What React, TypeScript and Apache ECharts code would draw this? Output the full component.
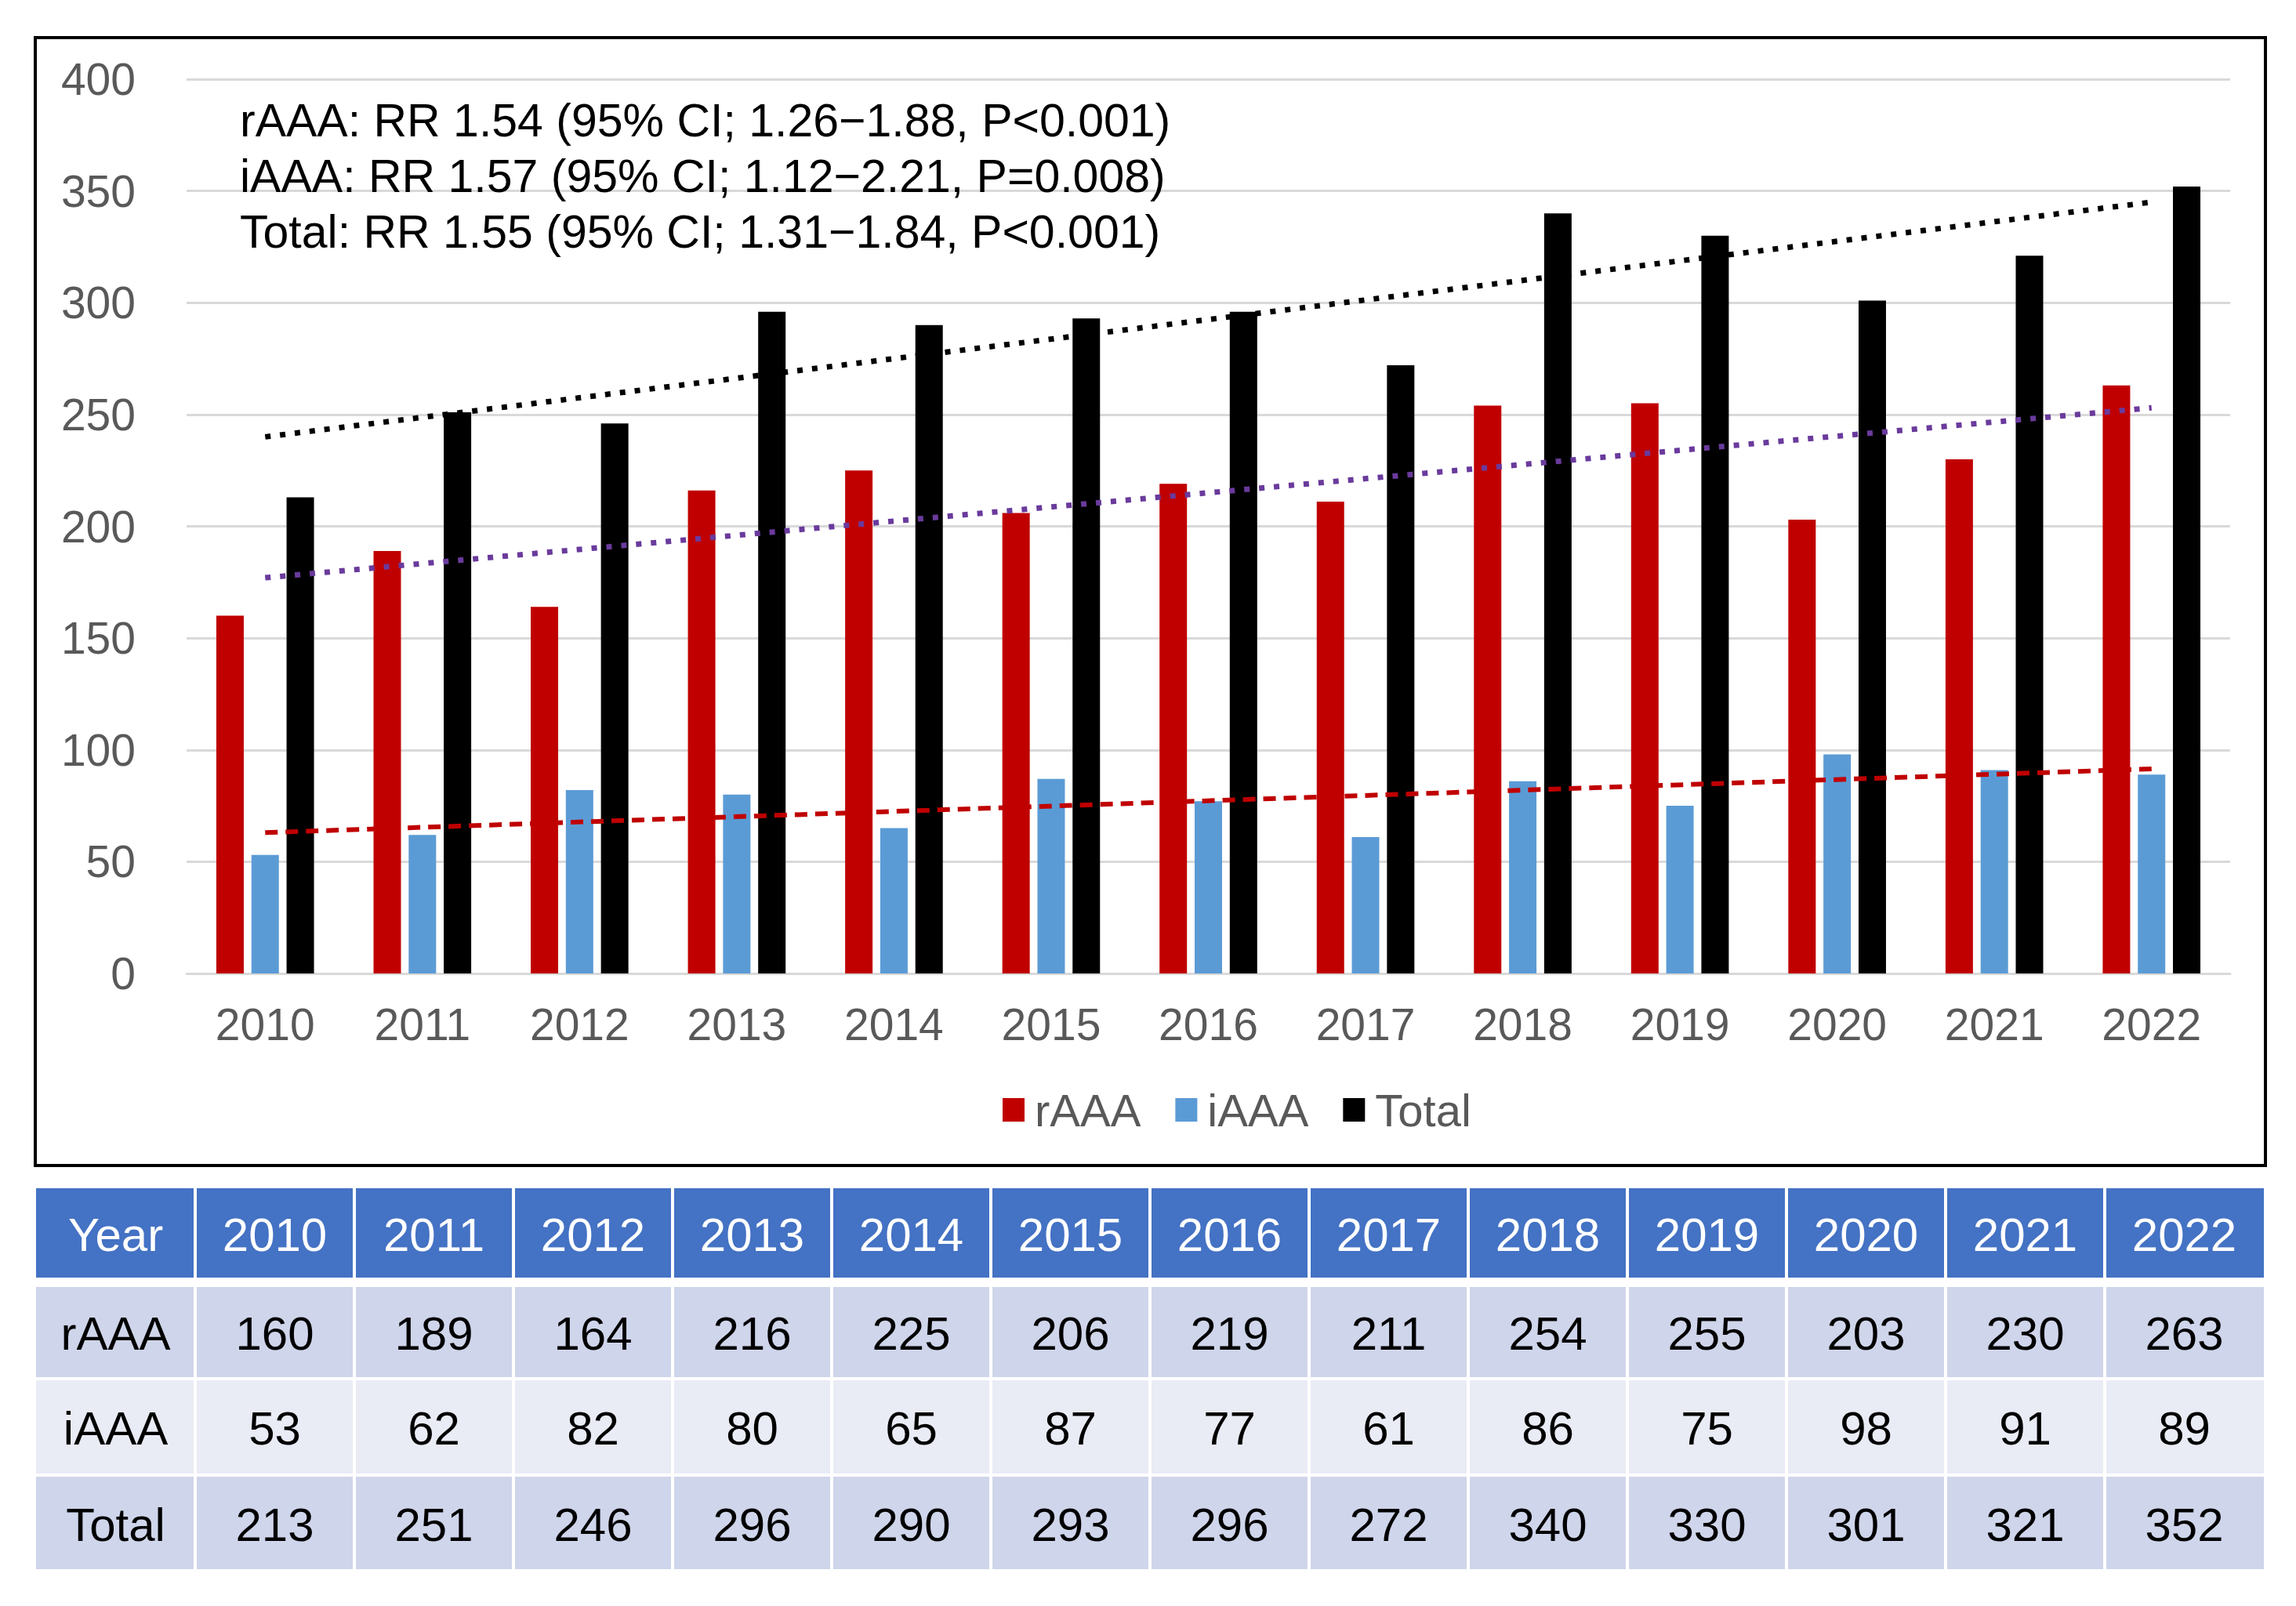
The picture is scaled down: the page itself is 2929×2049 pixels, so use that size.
import React, { useEffect, useRef } from "react";
import * as echarts from "echarts";

const years = ["2010", "2011", "2012", "2013", "2014", "2015", "2016", "2017", "2018", "2019", "2020", "2021", "2022"];
const rAAA = [160, 189, 164, 216, 225, 206, 219, 211, 254, 255, 203, 230, 263];
const iAAA = [53, 62, 82, 80, 65, 87, 77, 61, 86, 75, 98, 91, 89];
const total = [213, 251, 246, 296, 290, 293, 296, 272, 340, 330, 301, 321, 352];

// trend line end values (first year, last year)
const trendTotal = [240, 345];
const trendR = [177, 253];
const trendI = [63, 91.5];

const seriesNames = ["rAAA", "iAAA", "Total"];
const tableHeader = "Year";
const annotations = [
  "rAAA: RR 1.54 (95% CI; 1.26\u22121.88, P<0.001)",
  "iAAA: RR 1.57 (95% CI; 1.12\u22122.21, P=0.008)",
  "Total: RR 1.55 (95% CI; 1.31\u22121.84, P<0.001)",
];

const FONT = '"Liberation Sans", Arial, Helvetica, sans-serif';
const C_RED = "#C00000";
const C_BLUE = "#5B9BD5";
const C_BLACK = "#000000";
const C_PURPLE = "#6A3A9C";
const C_AXIS = "#595959";
const C_GRID = "#D9D9D9";

function buildTable(): any[] {
  const els: any[] = [];
  const x0 = 46;
  const colW = 203;
  const nCols = years.length + 1;
  const rows = [
    { y: 1516, h: 114, fill: "#4472C4", color: "#FFFFFF", cells: [tableHeader, ...years] },
    { y: 1642, h: 115, fill: "#CFD5EA", color: "#000000", cells: [seriesNames[0], ...rAAA.map(String)] },
    { y: 1761, h: 119, fill: "#E9EBF5", color: "#000000", cells: [seriesNames[1], ...iAAA.map(String)] },
    { y: 1884, h: 118, fill: "#CFD5EA", color: "#000000", cells: [seriesNames[2], ...total.map(String)] },
  ];
  rows.forEach((r) => {
    for (let c = 0; c < nCols; c++) {
      const left = x0 + c * colW + (c > 0 ? 2 : 0);
      const right = x0 + (c + 1) * colW - (c < nCols - 1 ? 2 : 0);
      els.push({
        type: "rect",
        shape: { x: left, y: r.y, width: right - left, height: r.h },
        style: { fill: r.fill },
        silent: true,
      });
      els.push({
        type: "text",
        x: x0 + c * colW + colW / 2,
        y: r.y + r.h / 2 + 2,
        style: {
          text: r.cells[c],
          fontSize: 60,
          fontFamily: FONT,
          fill: r.color,
          align: "center",
          verticalAlign: "middle",
        },
        silent: true,
      });
    }
  });
  return els;
}

export default function App() {
  const ref = useRef<HTMLDivElement>(null);

  useEffect(() => {
    document.body.style.margin = "0";
    const chart = echarts.init(ref.current!, null, { renderer: "svg" });
    const last = years.length - 1;
    const option: any = {
      animation: false,
      backgroundColor: "#FFFFFF",
      textStyle: { fontFamily: FONT },
      grid: {
        left: 238,
        right: 84,
        top: 101,
        bottom: 807,
        containLabel: false,
        outerBoundsMode: "none",
      },
      legend: {
        data: seriesNames,
        left: 1279,
        top: 1387,
        padding: 0,
        icon: "rect",
        itemWidth: 28,
        itemHeight: 30,
        itemGap: 44,
        textStyle: { fontSize: 58, color: C_AXIS, fontFamily: FONT, padding: [0, 0, 0, 8] },
      },
      xAxis: {
        type: "category",
        data: years,
        boundaryGap: true,
        axisLine: { show: true, lineStyle: { color: C_GRID, width: 3 } },
        axisTick: { show: false },
        axisLabel: { fontSize: 57, color: C_AXIS, margin: 36, fontFamily: FONT },
      },
      yAxis: {
        type: "value",
        min: 0,
        max: 400,
        interval: 50,
        axisLine: { show: false },
        axisTick: { show: false },
        axisLabel: { fontSize: 57, color: C_AXIS, margin: 65, fontFamily: FONT },
        splitLine: { show: true, lineStyle: { color: C_GRID, width: 3 } },
      },
      series: [
        { name: seriesNames[0], type: "bar", data: rAAA, barWidth: 35, barGap: "28%", itemStyle: { color: C_RED } },
        { name: seriesNames[1], type: "bar", data: iAAA, barWidth: 35, barGap: "28%", itemStyle: { color: C_BLUE } },
        { name: seriesNames[2], type: "bar", data: total, barWidth: 35, barGap: "28%", itemStyle: { color: C_BLACK } },
        {
          name: "trendTotal",
          type: "line",
          symbol: "none",
          silent: true,
          z: 5,
          data: [[years[0], trendTotal[0]], [years[last], trendTotal[1]]],
          lineStyle: { color: C_BLACK, width: 7, type: [7, 12], cap: "butt" },
        },
        {
          name: "trendR",
          type: "line",
          symbol: "none",
          silent: true,
          z: 5,
          data: [[years[0], trendR[0]], [years[last], trendR[1]]],
          lineStyle: { color: C_PURPLE, width: 7, type: [7, 12], cap: "butt" },
        },
        {
          name: "trendI",
          type: "line",
          symbol: "none",
          silent: true,
          z: 5,
          data: [[years[0], trendI[0]], [years[last], trendI[1]]],
          lineStyle: { color: C_RED, width: 6, type: [16, 10], cap: "butt" },
        },
      ],
      graphic: [
        {
          type: "rect",
          shape: { x: 45, y: 48, width: 2845, height: 1439 },
          style: { fill: "none", stroke: "#000000", lineWidth: 4 },
          silent: true,
          z: 100,
        },
        {
          type: "text",
          x: 306,
          y: 118,
          style: {
            text: annotations.join("\n"),
            fontSize: 59,
            lineHeight: 71,
            fontFamily: FONT,
            fill: "#000000",
            align: "left",
            verticalAlign: "top",
          },
          silent: true,
          z: 100,
        },
        ...buildTable(),
      ],
    };
    chart.setOption(option);
    return () => chart.dispose();
  }, []);

  return (
    <div
      ref={ref}
      style={{ position: "fixed", left: 0, top: 0, width: 2929, height: 2049, background: "#fff" }}
    />
  );
}
